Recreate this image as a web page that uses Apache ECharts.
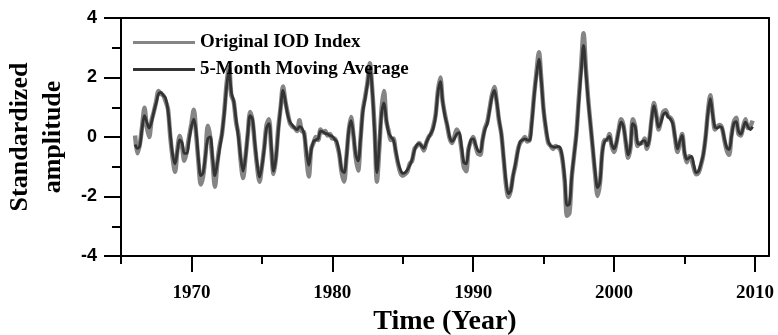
<!DOCTYPE html>
<html>
<head>
<meta charset="utf-8">
<script src="https://cdn.jsdelivr.net/npm/echarts@6/dist/echarts.min.js"></script>
<style>
  html, body { margin: 0; padding: 0; background: #fff; }
  #chart { width: 778px; height: 335px; }
</style>
</head>
<body>
<div id="chart"></div>
<script>
// Bimonthly samples (6 per year) starting January 1966
const startYear = 1966;
const samplesPerYear = 6;

// Original IOD index (standardized)
const originalIOD = [
  0.05, -0.55, -0.25, 0.35, 0.98, 0.35,
  0.0, 0.55, 0.85, 1.2, 1.55, 1.45,
  1.4, 1.2, 0.95, 0.0, -0.7, -1.17,
  -0.45, 0.03, -0.3, -0.8, -0.5, 0.0,
  0.45, 0.92, 0.1, -0.85, -1.6, -1.3,
  -0.6, 0.38, 0.0, -0.8, -1.67, -0.9,
  -0.3, 0.1, 0.85, 1.8, 2.36, 1.4,
  1.2, 0.5, 0.1, -0.8, -1.38, -0.7,
  0.1, 0.84, 0.55, -0.25, -1.0, -1.5,
  -1.0, -0.35, 0.4, 0.6, -0.4, -1.24,
  -0.7, 0.3, 1.0, 1.7, 1.2, 0.8,
  0.45, 0.35, 0.3, 0.2, 0.56, 0.2,
  0.15, -0.7, -1.33, -0.4, -0.2, 0.0,
  -0.1, 0.25, 0.15, 0.2, 0.05, 0.1,
  -0.05, -0.05, -0.25, -0.6, -1.2, -1.5,
  -0.7, 0.2, 0.67, 0.05, -0.7, -1.13,
  -0.1, 0.9, 1.35, 1.85, 2.48, 1.6,
  0.3, -1.5, -0.4, 0.95, 1.55, 0.55,
  0.2, -0.1, -0.05, -0.5, -0.9, -1.2,
  -1.3, -1.25, -1.15, -0.9, -0.8, -0.4,
  -0.3, -0.2, -0.3, -0.45, -0.2, 0.0,
  0.1, 0.35, 0.75, 1.55, 2.0, 1.2,
  0.75, 0.35, -0.05, -0.2, 0.0, 0.25,
  0.1, -0.4, -1.0, -1.15, -0.4, -0.15,
  0.0, -0.3, -0.55, -0.6, -0.1, 0.3,
  0.5, 0.95, 1.4, 1.68, 1.2, 0.55,
  0.1, -0.75, -1.6, -2.02, -1.8, -1.3,
  -0.95, -0.45, -0.2, -0.1, 0.0, -0.15,
  -0.1, 0.55, 1.45, 2.2, 2.85, 1.95,
  0.9, 0.25, -0.2, -0.3, -0.4, -0.3,
  -0.35, -0.4, -0.75, -1.5, -2.65, -2.55,
  -1.35, -0.6, 0.15, 1.3, 2.4, 3.49,
  2.3, 1.25, 0.4, -0.45, -1.3, -1.98,
  -1.55, -0.5, -0.1, -0.1, 0.1, -0.3,
  -0.5, -0.2, 0.25, 0.6, 0.4, -0.2,
  -0.7, -0.35, 0.6, 0.35, -0.3, -0.2,
  -0.2, -0.05, -0.4, -0.1, 0.6, 1.14,
  0.75, 0.25, 0.55, 0.85, 0.9, 0.7,
  0.65, 0.5, -0.05, -0.5, -0.2, 0.1,
  -0.55, -0.85, -0.65, -0.75, -1.05, -1.25,
  -1.2, -0.95, -0.6, 0.0, 0.85, 1.4,
  0.8, 0.25, 0.35, 0.4, 0.3, -0.1,
  -0.45, -0.6, 0.05, 0.5, 0.65, 0.1,
  0.05, 0.35, 0.6, 0.3, 0.35, 0.55
];

// 5-month moving average of the index
const movingAvg = [
  -0.25, -0.38, -0.3, 0.3, 0.72, 0.5,
  0.3, 0.5, 0.85, 1.15, 1.45, 1.5,
  1.4, 1.3, 0.9, 0.1, -0.6, -0.9,
  -0.5, -0.1, -0.2, -0.55, -0.55, -0.1,
  0.35, 0.6, 0.2, -0.75, -1.3, -1.2,
  -0.6, -0.05, 0.0, -0.7, -1.3, -0.9,
  -0.4, 0.1, 0.8, 1.7, 2.25, 1.5,
  1.2, 0.6, 0.0, -0.7, -1.15, -0.7,
  0.1, 0.72, 0.6, -0.2, -0.9, -1.35,
  -1.0, -0.4, 0.3, 0.45, -0.3, -1.15,
  -0.7, 0.2, 1.0, 1.57, 1.2, 0.75,
  0.5, 0.4, 0.3, 0.25, 0.35, 0.3,
  0.1, -0.5, -0.95, -0.45, -0.15, -0.1,
  -0.05, 0.2, 0.18, 0.12, 0.1, 0.05,
  0.02, -0.08, -0.18, -0.55, -1.1, -1.2,
  -0.7, 0.2, 0.55, 0.1, -0.6, -0.8,
  -0.1, 0.85, 1.3, 1.8, 2.3, 1.6,
  0.2, -1.2, -0.3, 0.8, 1.15, 0.6,
  0.15, 0.0, -0.1, -0.45, -0.85, -1.1,
  -1.22, -1.2, -1.1, -0.95, -0.75, -0.45,
  -0.27, -0.22, -0.3, -0.38, -0.2, -0.02,
  0.12, 0.3, 0.7, 1.5, 1.86, 1.2,
  0.7, 0.4, 0.0, -0.15, -0.05, 0.1,
  0.15, -0.3, -0.85, -0.9, -0.45, -0.1,
  -0.06, -0.25, -0.45, -0.5, -0.1, 0.25,
  0.45, 0.9, 1.35, 1.57, 1.2, 0.6,
  0.1, -0.7, -1.5, -1.9, -1.8, -1.3,
  -0.9, -0.5, -0.16, -0.1, -0.06, -0.1,
  -0.11, 0.5, 1.4, 2.1, 2.62, 1.9,
  0.9, 0.3, -0.15, -0.3, -0.33, -0.34,
  -0.32, -0.35, -0.7, -1.4, -2.3, -2.25,
  -1.3, -0.6, 0.1, 1.2, 2.2, 3.08,
  2.2, 1.2, 0.4, -0.4, -1.2, -1.7,
  -1.5, -0.5, -0.15, -0.08, 0.02, -0.25,
  -0.4, -0.2, 0.2, 0.5, 0.35, -0.15,
  -0.6, -0.3, 0.45, 0.35, -0.2, -0.25,
  -0.15, -0.12, -0.3, -0.1, 0.6, 1.05,
  0.7, 0.33, 0.5, 0.75, 0.82, 0.68,
  0.6, 0.45, 0.0, -0.4, -0.15, 0.05,
  -0.5, -0.75, -0.7, -0.65, -0.95, -1.2,
  -1.15, -0.9, -0.6, 0.0, 0.8, 1.29,
  0.75, 0.33, 0.3, 0.35, 0.3, -0.05,
  -0.35, -0.42, 0.0, 0.45, 0.52, 0.2,
  0.1, 0.3, 0.5, 0.35, 0.25, 0.35
];

// Axis ranges and tick positions
const yearMin = 1965;
const yearMax = 2011;
const majorYearTicks = [1970, 1980, 1990, 2000, 2010];
const minorYearTicks = [1965, 1975, 1985, 1995, 2005];
const ampMin = -4;
const ampMax = 4;
const ampStep = 2;

const seriesNames = ['Original IOD Index', '5-Month Moving Average'];

function toPairs(values) {
  return values.map((v, i) => [startYear + i / samplesPerYear, v]);
}

const serif = '"Liberation Serif", "Times New Roman", serif';
const sans = '"Liberation Sans", Arial, sans-serif';
const axisColor = '#000';

const chart = echarts.init(document.getElementById('chart'), null, { renderer: 'canvas' });

chart.setOption({
  animation: false,
  backgroundColor: '#fff',
  grid: { left: 121, right: 9, top: 18, bottom: 79, containLabel: false, outerBoundsMode: 'none' },
  legend: {
    orient: 'vertical',
    left: 128,
    top: 28,
    itemGap: 8,
    itemWidth: 62,
    itemHeight: 3,
    icon: 'rect',
    selectedMode: false,
    data: [
      { name: seriesNames[0], itemStyle: { color: '#858585' } },
      { name: seriesNames[1], itemStyle: { color: '#333333' } }
    ],
    textStyle: { fontFamily: serif, fontWeight: 'bold', fontSize: 19, color: '#000' }
  },
  xAxis: [
    {
      type: 'value',
      min: yearMin,
      max: yearMax,
      name: 'Time (Year)',
      nameLocation: 'middle',
      nameGap: 51,
      nameTextStyle: { fontFamily: serif, fontWeight: 'bold', fontSize: 28, color: '#000' },
      axisLine: { show: true, onZero: false, lineStyle: { color: axisColor, width: 2 } },
      axisTick: { show: true, customValues: majorYearTicks, length: 16, lineStyle: { color: axisColor, width: 2 } },
      axisLabel: {
        show: true, customValues: majorYearTicks, margin: 28,
        formatter: v => String(v),
        fontFamily: serif, fontWeight: 'bold', fontSize: 19, color: '#000'
      },
      splitLine: { show: false }
    },
    {
      type: 'value',
      min: yearMin,
      max: yearMax,
      position: 'bottom',
      axisLine: { show: false, onZero: false },
      axisTick: { show: true, customValues: minorYearTicks, length: 8, lineStyle: { color: axisColor, width: 2 } },
      axisLabel: { show: false },
      splitLine: { show: false }
    },
    {
      type: 'value',
      min: yearMin,
      max: yearMax,
      position: 'top',
      axisLine: { show: true, onZero: false, lineStyle: { color: axisColor, width: 2 } },
      axisTick: { show: false },
      axisLabel: { show: false },
      splitLine: { show: false }
    }
  ],
  yAxis: [
    {
      type: 'value',
      min: ampMin,
      max: ampMax,
      interval: ampStep,
      name: 'Standardized\namplitude',
      nameLocation: 'middle',
      nameGap: 47,
      nameTextStyle: { fontFamily: serif, fontWeight: 'bold', fontSize: 26, color: '#000', lineHeight: 33 },
      axisLine: { show: true, onZero: false, lineStyle: { color: axisColor, width: 2 } },
      axisTick: { show: true, length: 17, lineStyle: { color: axisColor, width: 2 } },
      minorTick: { show: true, splitNumber: 2, length: 9, lineStyle: { color: axisColor, width: 2 } },
      axisLabel: { margin: 24, fontFamily: sans, fontWeight: 'bold', fontSize: 18, color: '#000' },
      splitLine: { show: false }
    },
    {
      type: 'value',
      min: ampMin,
      max: ampMax,
      position: 'right',
      axisLine: { show: true, onZero: false, lineStyle: { color: axisColor, width: 2 } },
      axisTick: { show: false },
      axisLabel: { show: false },
      splitLine: { show: false }
    }
  ],
  series: [
    {
      name: seriesNames[0],
      type: 'line',
      xAxisIndex: 0,
      yAxisIndex: 0,
      data: toPairs(originalIOD),
      showSymbol: false,
      symbol: 'none',
      smooth: 0.3,
      lineStyle: { color: '#858585', width: 4.5 },
      itemStyle: { color: '#858585' },
      z: 2
    },
    {
      name: seriesNames[1],
      type: 'line',
      xAxisIndex: 0,
      yAxisIndex: 0,
      data: toPairs(movingAvg),
      showSymbol: false,
      symbol: 'none',
      smooth: 0.35,
      lineStyle: { color: '#333333', width: 2.8 },
      itemStyle: { color: '#333333' },
      z: 3
    }
  ]
});
</script>
</body>
</html>
